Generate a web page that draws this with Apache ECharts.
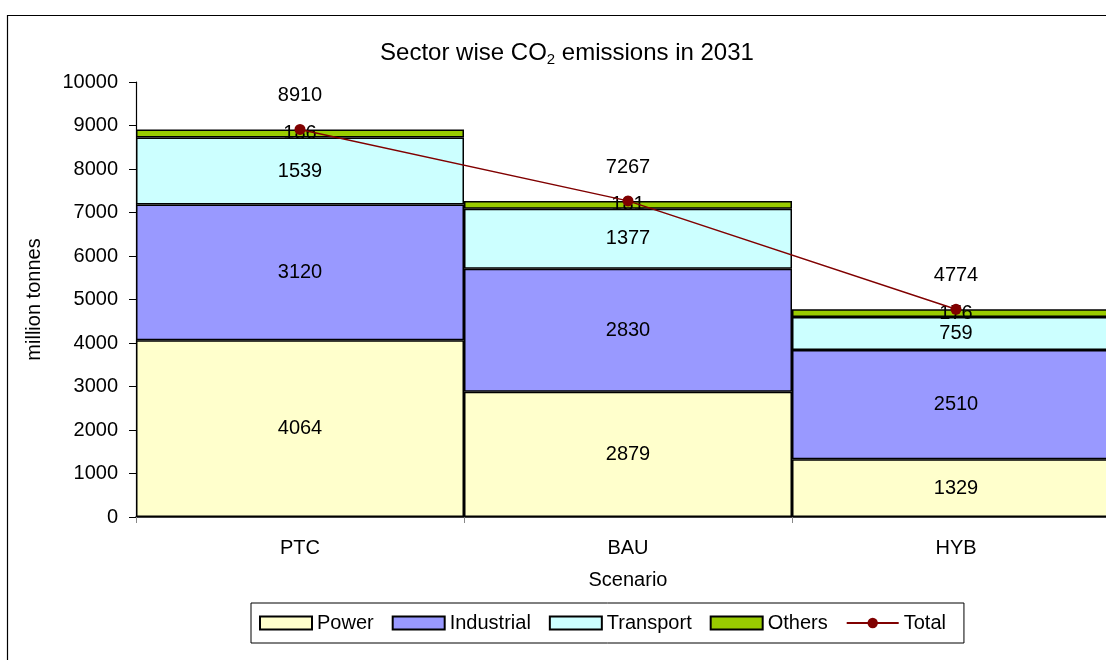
<!DOCTYPE html>
<html><head><meta charset="utf-8">
<script src="https://cdn.jsdelivr.net/npm/echarts@6/dist/echarts.min.js"></script>
<style>html,body{margin:0;padding:0;background:#fff}#c{width:1106px;height:660px}</style>
</head><body><div id="c"></div>
<script>
const categories = ['PTC', 'BAU', 'HYB'];
const power = [4064, 2879, 1329];
const industrial = [3120, 2830, 2510];
const transport = [1539, 1377, 759];
const others = [186, 181, 176];
const total = [8910, 7267, 4774];
const yTicks = [0, 1000, 2000, 3000, 4000, 5000, 6000, 7000, 8000, 9000, 10000];

const font = 'Liberation Sans, Arial, sans-serif';
const FS = 20;
const chart = echarts.init(document.getElementById('c'));
function barSeries(name, data, color) {
  return {
    name, type: 'bar', stack: 'all', data, barCategoryGap: '0%',
    itemStyle: { color, borderColor: '#000', borderWidth: 1.5 },
    label: { show: true, position: 'inside', color: '#000', fontSize: FS, fontFamily: font },
    emphasis: { disabled: true }
  };
}
chart.setOption({
  animation: false,
  textStyle: { fontFamily: font },
  title: {
    text: 'Sector wise CO{s|2} emissions in 2031',
    left: 562, top: 35, textAlign: 'center',
    textStyle: { fontSize: 24, fontWeight: 'normal', color: '#000', fontFamily: font,
      rich: { s: { fontSize: 15, verticalAlign: 'bottom', padding: [12, 0, 0, 0], fontFamily: font, color: '#000' } } }
  },
  graphic: [{ type: 'rect', shape: { x: 7.5, y: 15.5, width: 1200, height: 700 }, style: { fill: 'none', stroke: '#000', lineWidth: 1.2 }, z: 100 }],
  legend: {
    left: 251, top: 603, orient: 'horizontal',
    padding: [10, 18, 10, 8], itemGap: 18,
    itemWidth: 52, itemHeight: 13,
    borderColor: '#000', borderWidth: 1,
    textStyle: { fontSize: FS, color: '#000', fontFamily: font },
    data: [
      { name: 'Power', icon: 'rect' },
      { name: 'Industrial', icon: 'rect' },
      { name: 'Transport', icon: 'rect' },
      { name: 'Others', icon: 'rect' },
      { name: 'Total' }
    ]
  },
  grid: { left: 136, top: 82, bottom: 143, width: 984, containLabel: false, outerBoundsMode: 'none' },
  xAxis: {
    type: 'category', data: categories,
    name: 'Scenario', nameLocation: 'middle', nameGap: 53,
    nameTextStyle: { fontSize: FS, color: '#000', fontFamily: font },
    axisLine: { lineStyle: { color: '#000', width: 1.5 } },
    axisTick: { show: true, length: 6, lineStyle: { color: '#888' } },
    axisLabel: { fontSize: FS, color: '#000', margin: 21, fontFamily: font }
  },
  yAxis: {
    type: 'value', min: yTicks[0], max: yTicks[yTicks.length - 1], interval: 1000,
    name: 'million tonnes', nameLocation: 'middle', nameGap: 92, nameRotate: 90,
    nameTextStyle: { fontSize: FS, color: '#000', fontFamily: font },
    axisLine: { show: true, lineStyle: { color: '#000', width: 1.2 } },
    axisTick: { show: true, length: 7, lineStyle: { color: '#000' } },
    splitLine: { show: false },
    axisLabel: { fontSize: FS, color: '#000', margin: 18, fontFamily: font, formatter: v => String(v) }
  },
  series: [
    barSeries('Power', power, '#FFFFCC'),
    barSeries('Industrial', industrial, '#9999FF'),
    barSeries('Transport', transport, '#CCFFFF'),
    barSeries('Others', others, '#99CC00'),
    {
      name: 'Total', type: 'line', data: total, z: 10,
      symbol: 'circle', symbolSize: 11,
      lineStyle: { color: '#800000', width: 1.5 },
      itemStyle: { color: '#800000' },
      label: { show: true, position: 'top', distance: 18, color: '#000', fontSize: FS, fontFamily: font },
      emphasis: { disabled: true }
    }
  ]
});
</script></body></html>
